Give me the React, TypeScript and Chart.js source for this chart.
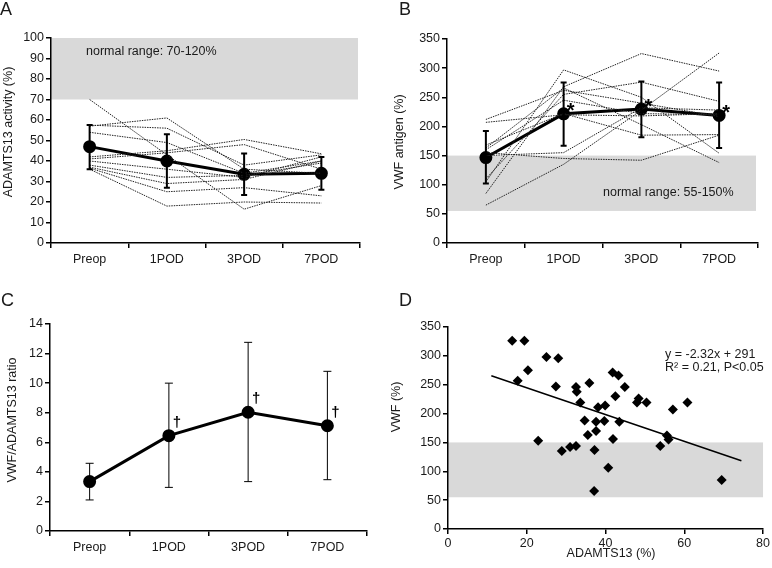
import React, { useEffect, useRef } from "react";
import { Chart, registerables } from "chart.js";
Chart.register(...registerables);

const FONT = '"Liberation Sans", Arial, Helvetica, sans-serif';
const TXT = "#1a1a1a";
const FS = 12.5;

const categories = ["Preop", "1POD", "3POD", "7POD"];

// Panel A: ADAMTS13 activity (%)
const adamtsPatients = [
  [70, 43, 16.5, 28],
  [57, 61, 36, 34],
  [57.5, 56, 38, 43],
  [54, 49, 34, 40],
  [42, 45, 50.5, 43.5],
  [41, 44, 48, 36],
  [40, 36, 32, 42],
  [38, 32, 33, 39],
  [37, 29, 31, 40],
  [36.5, 25, 27, 23],
  [36, 18, 20, 19.5],
];
const adamtsMean = [47, 40, 33.5, 34];
const adamtsLow = [36, 27, 23.4, 26];
const adamtsHigh = [57.6, 53, 43.7, 42];

// Panel B: VWF antigen (%)
const vwfPatients = [
  [65, 135, 228, 326],
  [85, 268, 325, 295],
  [105, 297, 250, 154],
  [110, 255, 276, 243],
  [163, 266, 203, 138],
  [160, 245, 222, 220],
  [168, 222, 185, 186],
  [155, 145, 142, 185],
  [150, 155, 232, 228],
  [212, 262, 240, 217],
  [207, 220, 218, 222],
];
const vwfMean = [146.6, 221.6, 229.7, 218.8];
const vwfLow = [102, 167, 181.5, 163];
const vwfHigh = [192, 275.5, 277, 275.5];

// Panel C: VWF/ADAMTS13 ratio
const ratioMean = [3.34, 6.45, 8.03, 7.12];
const ratioLow = [2.1, 2.95, 3.34, 3.47];
const ratioHigh = [4.58, 10.0, 12.76, 10.8];

// Panel D: scatter
const scatterAdamts = [16.3, 19.4, 17.7, 20.3, 25.0, 28.0, 27.4, 22.9, 28.9, 31.0, 32.5, 32.7, 32.5, 33.6, 34.7, 35.5, 35.9, 37.2, 37.1, 37.6, 37.6, 38.1, 39.7, 39.9, 40.7, 41.8, 41.9, 42.5, 43.3, 43.5, 44.9, 48.0, 48.4, 50.4, 53.9, 55.6, 56.0, 57.1, 60.8, 69.5];
const scatterVwf = [326, 326, 257, 275, 298, 296, 247, 153, 135, 142, 144, 238, 246, 219, 188, 163, 253, 137, 66, 170, 186, 211, 187, 214, 106, 271, 156, 230, 266, 186, 246, 219, 226, 219, 144, 162, 155, 207, 219, 85];
const regSlope = -2.32;
const regIntercept = 291;
const regXRange = [11, 74.5];

const yTicksA = { min: 0, max: 100, step: 10 };
const yTicksB = { min: 0, max: 350, step: 50 };
const yTicksC = { min: 0, max: 14, step: 2 };
const xTicksD = { min: 0, max: 80, step: 20 };

type TextItem = { text: string; x: number; y: number; size: number; rotate?: boolean; align?: CanvasTextAlign; baseline?: CanvasTextBaseline; bold?: boolean };

function makeDecor(cfg: any) {
  return {
    id: "decor",
    beforeDraw(chart: any) {
      const { ctx, chartArea, scales } = chart;
      if (cfg.band) {
        const top = scales.y.getPixelForValue(cfg.band.to);
        const bot = scales.y.getPixelForValue(cfg.band.from);
        ctx.save();
        ctx.fillStyle = "#d9d9d9";
        ctx.fillRect(chartArea.left, top, chartArea.right - chartArea.left - (cfg.band.trim || 0), bot - top);
        ctx.restore();
      }
      ctx.save();
      ctx.fillStyle = TXT;
      (cfg.texts || []).forEach((t: TextItem) => {
        ctx.font = `${t.bold ? "bold " : ""}${t.size}px ${FONT}`;
        ctx.textAlign = t.align || "left";
        ctx.textBaseline = t.baseline || "middle";
        if (t.rotate) {
          ctx.save();
          ctx.translate(t.x, t.y);
          ctx.rotate(-Math.PI / 2);
          ctx.textAlign = "center";
          ctx.fillText(t.text, 0, 0);
          ctx.restore();
        } else {
          ctx.fillText(t.text, t.x, t.y);
        }
      });
      ctx.restore();
    },
    afterDatasetsDraw(chart: any) {
      const { ctx, scales } = chart;
      if (cfg.errors) {
        const e = cfg.errors;
        ctx.save();
        ctx.strokeStyle = "#000";
        ctx.lineWidth = e.width;
        e.low.forEach((lo: number, i: number) => {
          const x = scales.x.getPixelForValue(i);
          const y1 = scales.y.getPixelForValue(lo);
          const y2 = scales.y.getPixelForValue(e.high[i]);
          ctx.beginPath();
          ctx.moveTo(x, y1);
          ctx.lineTo(x, y2);
          ctx.moveTo(x - e.cap, y1);
          ctx.lineTo(x + e.cap, y1);
          ctx.moveTo(x - e.cap, y2);
          ctx.lineTo(x + e.cap, y2);
          ctx.stroke();
        });
        ctx.restore();
      }
      if (cfg.marks) {
        const m = cfg.marks;
        ctx.save();
        ctx.fillStyle = "#000";
        ctx.font = `bold ${m.size}px ${FONT}`;
        ctx.textAlign = "center";
        ctx.textBaseline = "middle";
        m.indices.forEach((i: number) => {
          const x = scales.x.getPixelForValue(i) + m.dx;
          const y = scales.y.getPixelForValue(m.values[i]) + m.dy;
          ctx.fillText(m.symbol, x, y);
        });
        ctx.restore();
      }
    },
  };
}

function axisOpts(extra: any, size: number, isX: boolean) {
  return {
    ...extra,
    grid: { drawOnChartArea: false, drawTicks: true, tickLength: 5, color: "#000", lineWidth: 1.5, ...(extra.grid || {}) },
    border: { color: "#000", width: 1.5 },
    ticks: { color: TXT, font: { family: FONT, size: FS }, padding: isX ? 4 : 2, ...(extra.ticks || {}) },
    afterFit: (s: any) => {
      if (isX) s.height = size;
      else s.width = size;
    },
  };
}

function lineConfig(opts: {
  patients: number[][];
  mean: number[];
  low: number[];
  high: number[];
  yt: { min: number; max: number; step: number };
  pad: any;
  yWidth: number;
  xHeight: number;
  decor: any;
  errWidth: number;
  cap: number;
}) {
  const datasets: any[] = opts.patients.map((p) => ({
    data: p,
    borderColor: "#222",
    borderWidth: 1,
    borderDash: [1.5, 1],
    pointRadius: 0,
    fill: false,
    tension: 0,
  }));
  datasets.push({
    data: opts.mean,
    borderColor: "#000",
    borderWidth: 3,
    pointRadius: 5,
    pointBackgroundColor: "#000",
    pointBorderColor: "#000",
    fill: false,
    tension: 0,
  });
  return {
    type: "line",
    data: { labels: categories, datasets },
    options: {
      animation: false,
      responsive: false,
      events: [],
      layout: { padding: opts.pad },
      plugins: { legend: { display: false }, tooltip: { enabled: false } },
      scales: {
        x: axisOpts({ offset: true, grid: { offset: true } }, opts.xHeight, true),
        y: axisOpts({ min: opts.yt.min, max: opts.yt.max, ticks: { stepSize: opts.yt.step } }, opts.yWidth, false),
      },
    },
    plugins: [makeDecor({ ...opts.decor, errors: { low: opts.low, high: opts.high, width: opts.errWidth, cap: opts.cap } })],
  };
}

function configA() {
  return lineConfig({
    patients: adamtsPatients,
    mean: adamtsMean,
    low: adamtsLow,
    high: adamtsHigh,
    yt: yTicksA,
    pad: { top: 38, right: 26, left: 0, bottom: 0 },
    yWidth: 51,
    xHeight: 41,
    errWidth: 2,
    cap: 3,
    decor: {
      band: { from: 70, to: 100, trim: 2 },
      texts: [
        { text: "A", x: 0, y: 15, size: 18, baseline: "alphabetic" },
        { text: "normal range: 70-120%", x: 86, y: 52, size: FS },
        { text: "ADAMTS13 activity (%)", x: 9, y: 132, size: FS, rotate: true },
      ],
    },
  });
}

function configB() {
  return lineConfig({
    patients: vwfPatients,
    mean: vwfMean,
    low: vwfLow,
    high: vwfHigh,
    yt: yTicksB,
    pad: { top: 39, right: 14, left: 0, bottom: 0 },
    yWidth: 61,
    xHeight: 41,
    errWidth: 2,
    cap: 3,
    decor: {
      band: { from: 55, to: 150, trim: 2 },
      texts: [
        { text: "B", x: 13, y: 15, size: 18, baseline: "alphabetic" },
        { text: "normal range: 55-150%", x: 217, y: 193, size: FS },
        { text: "VWF antigen (%)", x: 14, y: 142, size: FS, rotate: true },
      ],
      marks: { symbol: "*", size: 20, indices: [1, 2, 3], values: vwfMean, dx: 7, dy: -2 },
    },
  });
}

function configC() {
  return lineConfig({
    patients: [],
    mean: ratioMean,
    low: ratioLow,
    high: ratioHigh,
    yt: yTicksC,
    pad: { top: 40, right: 19, left: 0, bottom: 0 },
    yWidth: 50,
    xHeight: 37,
    errWidth: 1,
    cap: 4,
    decor: {
      texts: [
        { text: "C", x: 1, y: 21.5, size: 18, baseline: "alphabetic" },
        { text: "VWF/ADAMTS13 ratio", x: 13, y: 136, size: FS, rotate: true },
      ],
      marks: { symbol: "\u2020", size: 15, indices: [1, 2, 3], values: ratioMean, dx: 8, dy: -13 },
    },
  });
}

function configD() {
  const pts = scatterAdamts.map((x, i) => ({ x, y: scatterVwf[i] }));
  const reg = regXRange.map((x) => ({ x, y: regSlope * x + regIntercept }));
  return {
    type: "scatter",
    data: {
      datasets: [
        {
          data: pts,
          pointStyle: "rectRot",
          pointRadius: 5,
          backgroundColor: "#000",
          borderColor: "#000",
          borderWidth: 0,
        },
        {
          type: "line",
          data: reg,
          borderColor: "#000",
          borderWidth: 1.5,
          pointRadius: 0,
          showLine: true,
          fill: false,
        },
      ],
    },
    options: {
      animation: false,
      responsive: false,
      events: [],
      layout: { padding: { top: 43, right: 8, left: 0, bottom: 0 } },
      plugins: { legend: { display: false }, tooltip: { enabled: false } },
      scales: {
        x: axisOpts({ type: "linear", min: xTicksD.min, max: xTicksD.max, ticks: { stepSize: xTicksD.step, padding: 2 } }, 39, true),
        y: axisOpts({ min: yTicksB.min, max: yTicksB.max, ticks: { stepSize: yTicksB.step } }, 62, false),
      },
    },
    plugins: [
      makeDecor({
        band: { from: 55, to: 150, trim: 0 },
        texts: [
          { text: "D", x: 13, y: 21.5, size: 18, baseline: "alphabetic" },
          { text: "VWF (%)", x: 11, y: 123, size: FS, rotate: true },
          { text: "ADAMTS13 (%)", x: 225, y: 270, size: FS, align: "center" },
          { text: "y = -2.32x + 291", x: 279, y: 71, size: FS },
          { text: "R\u00B2 = 0.21, P<0.05", x: 279, y: 84, size: FS },
        ],
      }),
    ],
  };
}

function Panel({ make, left, top }: { make: () => any; left: number; top: number }) {
  const ref = useRef<HTMLCanvasElement | null>(null);
  useEffect(() => {
    if (!ref.current) return;
    const chart = new Chart(ref.current, make());
    return () => chart.destroy();
  }, []);
  return (
    <canvas
      ref={ref}
      width={386}
      height={284}
      style={{ position: "absolute", left, top, width: 386, height: 284 }}
    />
  );
}

export default function App() {
  return (
    <div style={{ position: "absolute", left: 0, top: 0, width: 772, height: 568, background: "#fff" }}>
      <Panel make={configA} left={0} top={0} />
      <Panel make={configB} left={386} top={0} />
      <Panel make={configC} left={0} top={284} />
      <Panel make={configD} left={386} top={284} />
    </div>
  );
}
